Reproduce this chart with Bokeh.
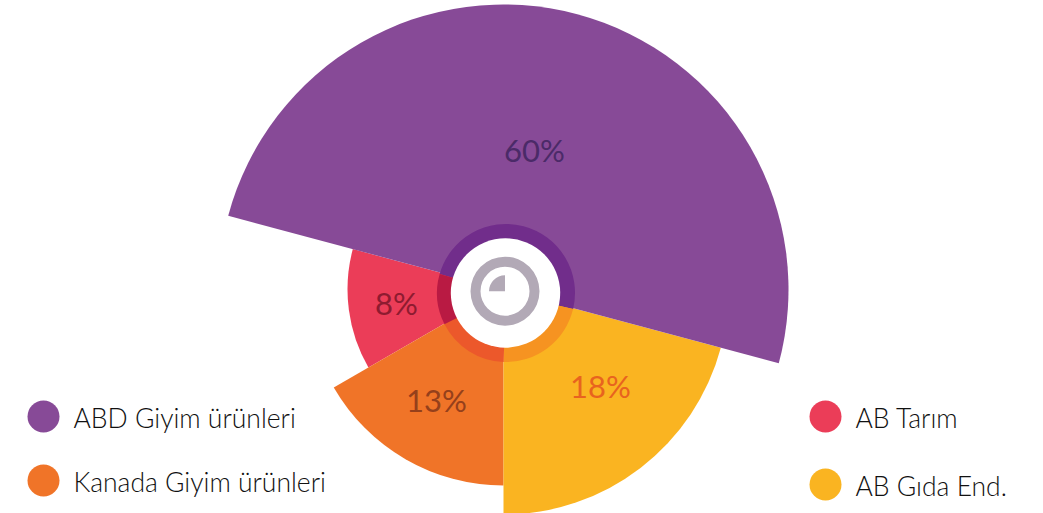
from bokeh.plotting import figure
from bokeh.models import Range1d
from bokeh.core.properties import value
from bokeh.embed import file_html
from bokeh.resources import INLINE

W, H = 1043, 513
FONT = "Lato Light, Lato"
FONT_SHARE = "Lato"

# series
names = ["ABD Giyim ürünleri", "AB Gıda End.", "Kanada Giyim ürünleri", "AB Tarım"]
shares = ["60%", "18%", "13%", "8%"]
starts_deg = [-15, 270, 210, 165]
ends_deg = [165, 345, 270, 210]
radii = [285, 225, 196, 156]
colors = ["#874A97", "#FAB421", "#F07428", "#EB3D58"]
ring_colors = ["#712D8B", "#F69321", "#EC582B", "#B91A43"]
ring_starts = [-13.5, 268, 207, 164]
ring_ends = [164, 346.5, 268, 207]
share_colors = ["#4B2A68", "#E8631F", "#95401B", "#8E1B30"]
share_x = [534, 600, 436, 396]
share_y = [149, 385, 399, 302]
legend_x = [43, 825, 43, 825]
legend_y = [416, 484, 480, 416]
legend_text_x = [73, 855, 73, 855]
legend_text_y = [417, 485, 481, 417]

APEX = (503, 289)
RING = (505.5, 292.5)
ICON = (504.5, 290.7)
GREY = "#B2A9B6"


def fy(py):
    return H - py


p = figure(width=W, height=H, x_range=Range1d(0, W), y_range=Range1d(0, H),
           output_backend="svg", toolbar_location=None, min_border=0,
           background_fill_color="white",
           border_fill_color="white", outline_line_color=None)
p.axis.visible = False
p.grid.visible = False

# draw order: red, orange, yellow, purple
for i in [3, 2, 1, 0]:
    p.wedge(x=APEX[0], y=fy(APEX[1]), radius=radii[i],
            start_angle=starts_deg[i], end_angle=ends_deg[i],
            start_angle_units="deg", end_angle_units="deg",
            fill_color=colors[i], line_color=None)

for i in range(4):
    p.annular_wedge(x=RING[0], y=fy(RING[1]), inner_radius=50, outer_radius=69,
                    start_angle=ring_starts[i], end_angle=ring_ends[i],
                    start_angle_units="deg", end_angle_units="deg",
                    fill_color=ring_colors[i], line_color=None)

p.circle(x=RING[0] - 0.5, y=fy(RING[1]), radius=54.7, fill_color="white", line_color=None)
p.annulus(x=ICON[0], y=fy(ICON[1]), inner_radius=24.5, outer_radius=34.5,
          fill_color=GREY, line_color=None)
p.wedge(x=ICON[0], y=fy(ICON[1]), radius=16, start_angle=90, end_angle=180,
        start_angle_units="deg", end_angle_units="deg", fill_color=GREY, line_color=None)

p.text(x=share_x, y=[fy(v) for v in share_y], text=shares, text_color=share_colors,
       text_font=value(FONT_SHARE), text_font_size="31px", text_align="center",
       text_baseline="middle")

p.circle(x=legend_x, y=[fy(v) for v in legend_y], radius=16, fill_color=colors, line_color=None)
p.text(x=legend_text_x, y=[fy(v) for v in legend_text_y], text=names,
       text_color="#111111", text_font=value(FONT), text_font_size="26.5px",
       text_align="left", text_baseline="middle")

open("out.html", "w").write(file_html(p, INLINE))
